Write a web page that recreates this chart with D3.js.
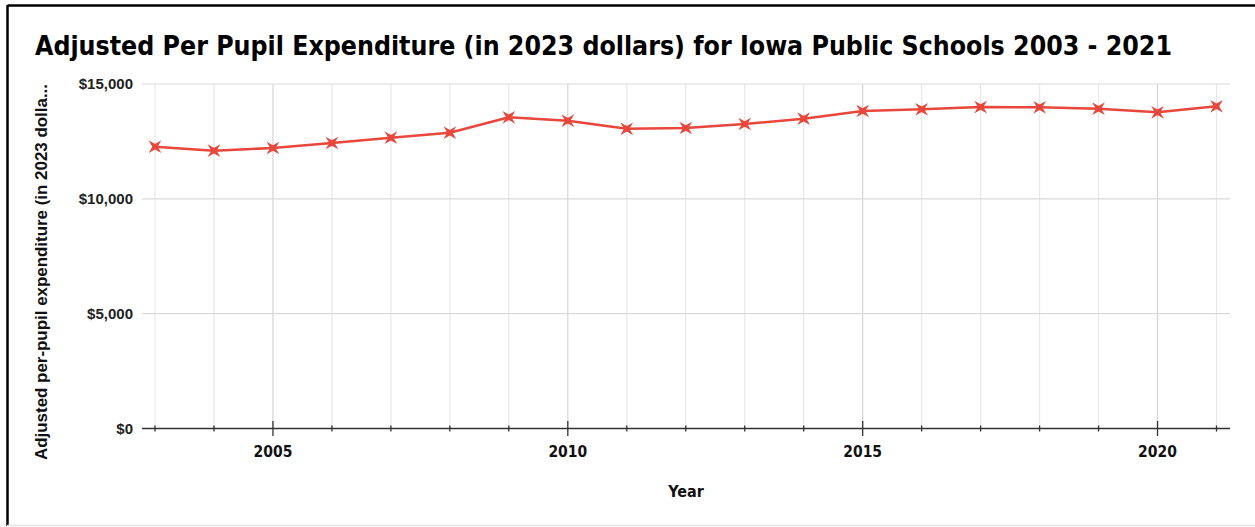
<!DOCTYPE html>
<html><head><meta charset="utf-8">
<script src="https://cdn.jsdelivr.net/npm/d3@7"></script>
<style>body{margin:0;background:#fff;} svg{display:block;}</style>
</head><body>
<svg id="chart" width="1255" height="527"></svg>
<script>
const years = [2003,2004,2005,2006,2007,2008,2009,2010,2011,2012,2013,2014,2015,2016,2017,2018,2019,2020,2021];
const expenditure = [12270,12096,12213,12431,12662,12879,13550,13402,13050,13084,13258,13489,13824,13898,13998,13985,13924,13768,14029];
const yTicks = [0,5000,10000,15000];
const xMajorTicks = [2005,2010,2015,2020];
const titleText = "Adjusted Per Pupil Expenditure (in 2023 dollars) for Iowa Public Schools 2003 - 2021";
const yTitle = "Adjusted per-pupil expenditure (in 2023 dolla...";
const xTitle = "Year";

const svg = d3.select("#chart");
const color = "#e9473b";

// frame
svg.append("line").attr("x1",7.5).attr("x2",1255).attr("y1",5.5).attr("y2",5.5).attr("stroke","#000").attr("stroke-width",2.5);
svg.append("line").attr("x1",7.5).attr("x2",7.5).attr("y1",5).attr("y2",526).attr("stroke","#000").attr("stroke-width",2.5);
svg.append("line").attr("x1",7).attr("x2",1255).attr("y1",525.5).attr("y2",525.5).attr("stroke","#e4e4e4").attr("stroke-width",1.5);

const x = d3.scaleLinear().domain([2003,2021]).range([155,1216.5]);
const y = d3.scaleLinear().domain([0,15000]).range([428.5,84]);
const left = 142, right = 1230;

// vertical grid
svg.append("g").selectAll("line").data(years).join("line")
  .attr("x1",d=>x(d)).attr("x2",d=>x(d)).attr("y1",y(15000)).attr("y2",y(0))
  .attr("stroke",d=>xMajorTicks.includes(d)?"#d4d4d4":"#e8e8e8").attr("stroke-width",1.2);
// horizontal grid
svg.append("g").selectAll("line").data(yTicks.filter(d=>d>0)).join("line")
  .attr("x1",left).attr("x2",right).attr("y1",d=>y(d)).attr("y2",d=>y(d))
  .attr("stroke","#dadada").attr("stroke-width",1.2);

// x axis line
svg.append("line").attr("x1",left).attr("x2",right).attr("y1",y(0)).attr("y2",y(0)).attr("stroke","#333").attr("stroke-width",1.3);
// ticks
svg.append("g").selectAll("line").data(years).join("line")
  .attr("x1",d=>x(d)).attr("x2",d=>x(d))
  .attr("y1",d=>y(0)-(xMajorTicks.includes(d)?7.5:3))
  .attr("y2",d=>y(0)+(xMajorTicks.includes(d)?7.5:3))
  .attr("stroke","#333").attr("stroke-width",1.3);

// x tick labels
svg.append("g").selectAll("text").data(xMajorTicks).join("text")
  .attr("x",d=>x(d)).attr("y",457).attr("text-anchor","middle")
  .attr("font-family","'DejaVu Sans Condensed','DejaVu Sans',sans-serif").attr("font-weight","bold")
  .attr("font-size",15.5).attr("fill","#111").text(d=>d);

// y tick labels
const fmt = d3.format("$,");
svg.append("g").selectAll("text").data(yTicks).join("text")
  .attr("x",133).attr("y",d=>y(d)+5).attr("text-anchor","end")
  .attr("font-family","'Liberation Sans',Arial,sans-serif").attr("font-weight","bold")
  .attr("font-size",15).attr("fill","#222").text(d=>fmt(d));

// title
svg.append("text").attr("x",35).attr("y",55)
  .attr("font-family","'DejaVu Sans Condensed','DejaVu Sans',sans-serif").attr("font-weight","bold")
  .attr("font-size",26).attr("fill","#000")
  .attr("textLength",1137).attr("lengthAdjust","spacingAndGlyphs").text(titleText);

// y title
svg.append("text").attr("transform","translate(47,272) rotate(-90)").attr("text-anchor","middle")
  .attr("font-family","'Liberation Sans',Arial,sans-serif").attr("font-weight","bold")
  .attr("font-size",16.5).attr("fill","#111")
  .attr("textLength",376).attr("lengthAdjust","spacingAndGlyphs").text(yTitle);

// x title
svg.append("text").attr("x",686).attr("y",497).attr("text-anchor","middle")
  .attr("font-family","'DejaVu Sans Condensed','DejaVu Sans',sans-serif").attr("font-weight","bold")
  .attr("font-size",16).attr("fill","#111").text(xTitle);

// line
const line = d3.line().x((d,i)=>x(years[i])).y(d=>y(d));
svg.append("path").datum(expenditure).attr("d",line).attr("fill","none")
  .attr("stroke",color).attr("stroke-width",2.6).attr("stroke-linejoin","round");

// markers: four-pointed star oriented as an X
const starX = {
  draw(ctx, size) {
    const R = Math.sqrt(size) * 0.9, r = R * 0.3;
    for (let k = 0; k < 8; k++) {
      const a = Math.PI / 4 + k * Math.PI / 4;
      const rad = k % 2 === 0 ? R : r;
      const px = Math.cos(a) * rad, py = Math.sin(a) * rad;
      if (k === 0) ctx.moveTo(px, py); else ctx.lineTo(px, py);
    }
    ctx.closePath();
  }
};
const sym = d3.symbol().type(starX).size(100);
svg.append("g").selectAll("path").data(expenditure).join("path")
  .attr("d",sym)
  .attr("transform",(d,i)=>`translate(${x(years[i])},${y(d)})`)
  .attr("fill",color);
</script>
</body></html>
